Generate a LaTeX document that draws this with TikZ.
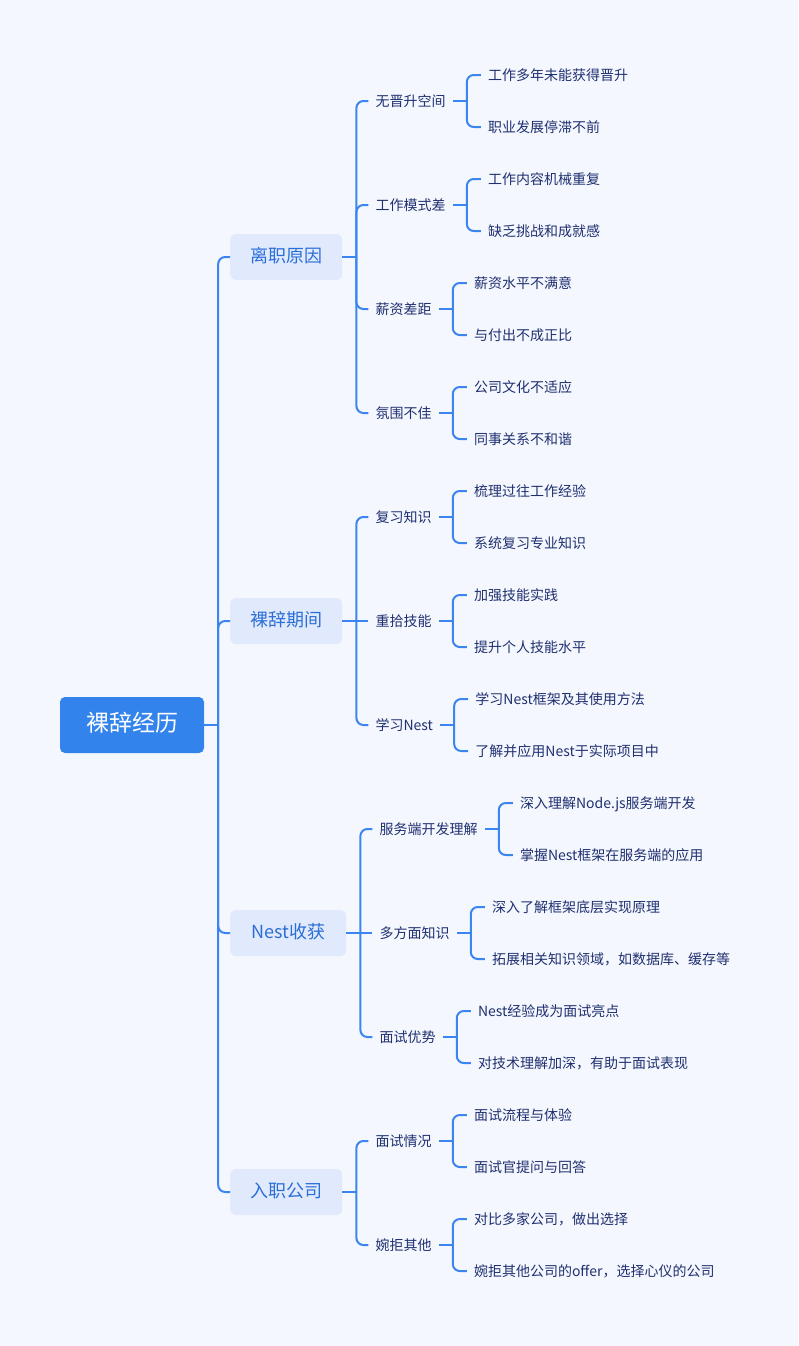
\documentclass[tikz,border=0pt]{standalone}
\usepackage{fontspec}
\setmainfont{Noto Sans CJK SC}
\usetikzlibrary{calc}
\definecolor{bg}{HTML}{F5F7FE}
\definecolor{lineblue}{HTML}{3A85F0}
\definecolor{rootfill}{HTML}{3383EC}
\definecolor{brfill}{HTML}{E1E9FD}
\definecolor{brtext}{HTML}{2B6FD6}
\definecolor{leaftext}{HTML}{1F3070}
\tikzset{
  x=1pt, y=-1pt,
  conn/.style={draw=lineblue, line width=2pt},
  rc/.style={rounded corners=7pt},
  rootbox/.style={fill=rootfill, text=white, rounded corners=5pt, minimum width=144pt, minimum height=56pt, font=\fontsize{23}{26}\selectfont, inner sep=0pt, text height=1.2em, text depth=0em},
  brbox/.style={fill=brfill, text=brtext, rounded corners=6pt, inner xsep=20pt, inner ysep=0pt, minimum height=46pt, font=\fontsize{18}{22}\selectfont, text height=1.16em, text depth=0em, anchor=west},
  txt/.style={text=leaftext, inner xsep=7pt, inner ysep=2pt, font=\fontsize{14}{17}\selectfont, text height=1.04em, text depth=0em, anchor=west},
}
\begin{document}
\begin{tikzpicture}
\useasboundingbox[fill=bg] (0,0) rectangle (798,1346);

% root
\node[rootbox] (root) at (132,725) {裸辞经历};
\coordinate (rj) at ($(root.east)+(14,0)$);
\draw[conn] (root.east) -- (rj);

% branches
\node[brbox] (b1) at (230,257) {离职原因};
\node[brbox] (b2) at (230,621) {裸辞期间};
\node[brbox, minimum width=116pt] (b3) at (230,933) {Nest收获};
\node[brbox] (b4) at (230,1192) {入职公司};
\foreach \b in {b1,b2,b3,b4}{
  \draw[conn,rc] (rj) |- (\b.west);
  \coordinate (\b j) at ($(\b.east)+(14,0)$);
  \coordinate (\b k) at ($(\b.east)+(26,0)$);
  \draw[conn] (\b.east) -- (\b j);
}

% level 1
\node[txt] (c11) at (b1k |- 0,101) {无晋升空间};
\node[txt] (c12) at (b1k |- 0,205) {工作模式差};
\node[txt] (c13) at (b1k |- 0,309) {薪资差距};
\node[txt] (c14) at (b1k |- 0,413) {氛围不佳};
\node[txt] (c21) at (b2k |- 0,517) {复习知识};
\node[txt] (c22) at (b2k |- 0,621) {重拾技能};
\node[txt] (c23) at (b2k |- 0,725) {学习Nest};
\node[txt] (c31) at (b3k |- 0,829) {服务端开发理解};
\node[txt] (c32) at (b3k |- 0,933) {多方面知识};
\node[txt] (c33) at (b3k |- 0,1037) {面试优势};
\node[txt] (c41) at (b4k |- 0,1141) {面试情况};
\node[txt] (c42) at (b4k |- 0,1245) {婉拒其他};

\foreach \p/\c in {b1/c11,b1/c12,b1/c13,b1/c14,b2/c21,b2/c23,b3/c31,b3/c33,b4/c41,b4/c42}{
  \draw[conn,rc] (\p j) |- (\c.west);
}
\draw[conn] (b2j) -- (c22.west);
\draw[conn] (b3j) -- (c32.west);

\foreach \c in {c11,c12,c13,c14,c21,c22,c23,c31,c32,c33,c41,c42}{
  \coordinate (\c j) at ($(\c.east)+(14,0)$);
  \coordinate (\c k) at ($(\c.east)+(28,0)$);
  \draw[conn] (\c.east) -- (\c j);
}

% leaves
\node[txt] (l111) at (c11k |- 0,75) {工作多年未能获得晋升};
\node[txt] (l112) at (c11k |- 0,127) {职业发展停滞不前};
\node[txt] (l121) at (c12k |- 0,179) {工作内容机械重复};
\node[txt] (l122) at (c12k |- 0,231) {缺乏挑战和成就感};
\node[txt] (l131) at (c13k |- 0,283) {薪资水平不满意};
\node[txt] (l132) at (c13k |- 0,335) {与付出不成正比};
\node[txt] (l141) at (c14k |- 0,387) {公司文化不适应};
\node[txt] (l142) at (c14k |- 0,439) {同事关系不和谐};
\node[txt] (l211) at (c21k |- 0,491) {梳理过往工作经验};
\node[txt] (l212) at (c21k |- 0,543) {系统复习专业知识};
\node[txt] (l221) at (c22k |- 0,595) {加强技能实践};
\node[txt] (l222) at (c22k |- 0,647) {提升个人技能水平};
\node[txt] (l231) at (c23k |- 0,699) {学习Nest框架及其使用方法};
\node[txt] (l232) at (c23k |- 0,751) {了解并应用Nest于实际项目中};
\node[txt] (l311) at (c31k |- 0,803) {深入理解Node.js服务端开发};
\node[txt] (l312) at (c31k |- 0,855) {掌握Nest框架在服务端的应用};
\node[txt] (l321) at (c32k |- 0,907) {深入了解框架底层实现原理};
\node[txt] (l322) at (c32k |- 0,959) {拓展相关知识领域，如数据库、缓存等};
\node[txt] (l331) at (c33k |- 0,1011) {Nest经验成为面试亮点};
\node[txt] (l332) at (c33k |- 0,1063) {对技术理解加深，有助于面试表现};
\node[txt] (l411) at (c41k |- 0,1115) {面试流程与体验};
\node[txt] (l412) at (c41k |- 0,1167) {面试官提问与回答};
\node[txt] (l421) at (c42k |- 0,1219) {对比多家公司，做出选择};
\node[txt] (l422) at (c42k |- 0,1271) {婉拒其他公司的offer，选择心仪的公司};

\foreach \c/\l in {c11/l111,c11/l112,c12/l121,c12/l122,c13/l131,c13/l132,c14/l141,c14/l142,c21/l211,c21/l212,c22/l221,c22/l222,c23/l231,c23/l232,c31/l311,c31/l312,c32/l321,c32/l322,c33/l331,c33/l332,c41/l411,c41/l412,c42/l421,c42/l422}{
  \draw[conn,rc] (\c j) |- (\l.west);
}
\end{tikzpicture}
\end{document}
